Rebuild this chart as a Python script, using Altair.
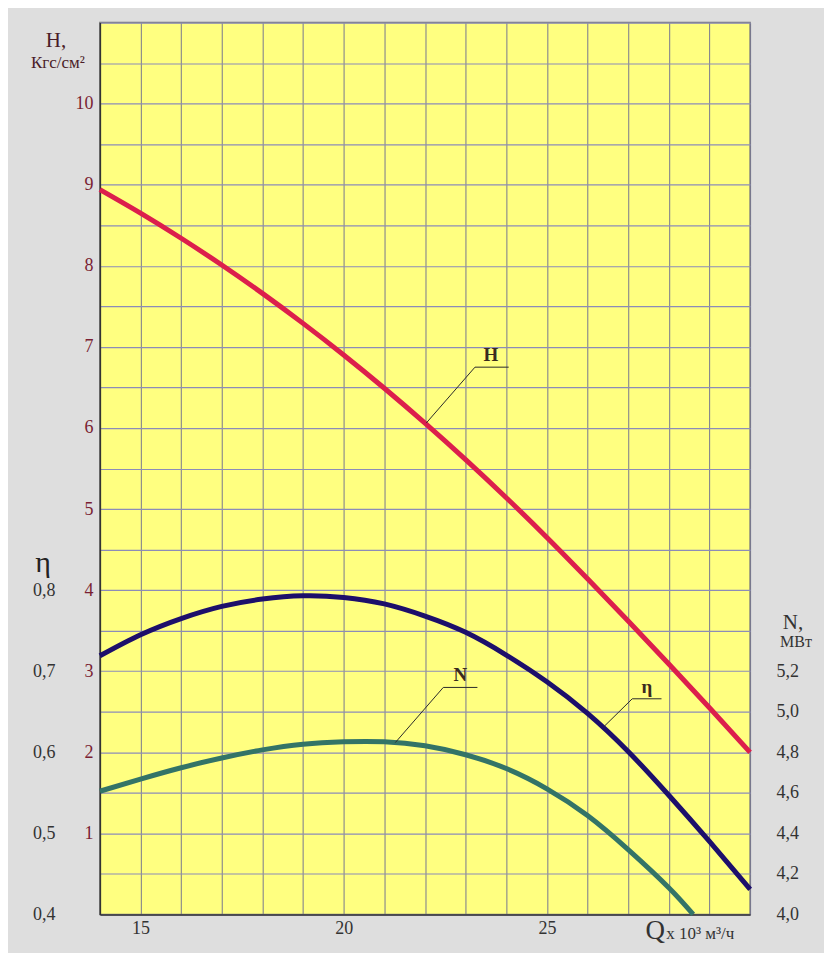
import altair as alt
import pandas as pd

# ---------------- data ----------------
Q_H = [14, 15, 16, 17, 18, 19, 20, 21, 22, 23, 24, 25, 26, 27, 28, 29, 30]
H_VALUES = [8.94, 8.65, 8.34, 8.01, 7.66, 7.29, 6.90, 6.49, 6.06, 5.61, 5.14, 4.65, 4.14, 3.62, 3.09, 2.55, 2.00]

Q_ETA = [14, 15, 16, 17, 18, 19, 20, 21, 22, 23, 24, 25, 26, 27, 28, 29, 30]
ETA_VALUES = [0.719, 0.745, 0.765, 0.780, 0.789, 0.793, 0.791, 0.783, 0.768, 0.748, 0.720, 0.687,
              0.648, 0.601, 0.547, 0.490, 0.431]

Q_N = [14, 15, 16, 17, 18, 19, 20, 21, 22, 23, 24, 25, 26, 27, 28, 28.6]
N_VALUES = [4.608, 4.668, 4.724, 4.772, 4.812, 4.840, 4.852, 4.852, 4.832, 4.788, 4.720, 4.620,
            4.488, 4.320, 4.132, 4.000]

# leader lines (x in Q units, y in H-scale units)
LEADER_ID = ["H", "H", "H", "N", "N", "N", "η", "η", "η"]
LEADER_Q = [22.03, 23.23, 24.06, 21.27, 22.45, 23.29, 26.41, 27.10, 27.82]
LEADER_Y = [6.06, 6.75, 6.75, 2.12, 2.80, 2.80, 2.32, 2.66, 2.66]

LABEL_TEXT = ["H", "N", "η"]
LABEL_Q = [23.62, 22.87, 27.46]
LABEL_Y = [6.75, 2.80, 2.66]

X_TICKS = list(range(14, 31))
X_LABELS = [15, 20, 25]
H_GRID = [i * 0.5 for i in range(0, 23)]
H_LABELS = list(range(1, 11))
ETA_LABELS = [0.4, 0.5, 0.6, 0.7, 0.8]
N_LABELS = [4.0, 4.2, 4.4, 4.6, 4.8, 5.0, 5.2]

SERIF = "Liberation Serif"
RED = "#dc1f4c"
NAVY = "#1d0f6b"
TEAL = "#337467"
MAROON = "#7a1f33"

W, H = 651, 893

x_axis = alt.Axis(
    values=X_TICKS, grid=True, gridColor="#77778f", gridWidth=1, ticks=False,
    domain=True, domainColor="#333333", domainWidth=1.5,
    labelExpr="(datum.value == 15 || datum.value == 20 || datum.value == 25) ? datum.label : ''",
    labelFont=SERIF, labelFontSize=18, labelColor="#333333", labelPadding=5, title=None,
)
x_scale = alt.Scale(domain=[14, 30], nice=False, zero=False)


def X(field):
    return alt.X(f"{field}:Q", scale=x_scale, axis=x_axis)


h_scale = alt.Scale(domain=[0, 11], nice=False, zero=False)
eta_scale = alt.Scale(domain=[0.4, 1.5], nice=False, zero=False)
n_scale = alt.Scale(domain=[4.0, 8.4], nice=False, zero=False)

df_h = pd.DataFrame({"Q": Q_H, "H": H_VALUES})
df_eta = pd.DataFrame({"Q": Q_ETA, "eta": ETA_VALUES})
df_n = pd.DataFrame({"Q": Q_N, "N": N_VALUES})
df_lead = pd.DataFrame({"id": LEADER_ID, "Q": LEADER_Q, "y": LEADER_Y})
df_lab = pd.DataFrame({"t": LABEL_TEXT, "Q": LABEL_Q, "y": LABEL_Y})

h_layer = alt.Chart(df_h).mark_line(color=RED, strokeWidth=5, interpolate="natural").encode(
    x=X("Q"),
    y=alt.Y("H:Q", scale=h_scale, axis=alt.Axis(
        orient="left", values=H_GRID, grid=True, gridColor="#8c8cb8", gridWidth=1.2, ticks=False,
        domain=True, domainColor="#333333", domainWidth=1.5,
        labelExpr="(datum.value >= 1 && datum.value <= 10 && datum.value % 1 == 0) ? format(datum.value, 'd') : ''",
        labelFont=SERIF, labelFontSize=18, labelColor=MAROON, labelPadding=7, title=None)),
)

eta_layer = alt.Chart(df_eta).mark_line(color=NAVY, strokeWidth=5, interpolate="natural").encode(
    x=X("Q"),
    y=alt.Y("eta:Q", scale=eta_scale, axis=alt.Axis(
        orient="left", offset=40, values=ETA_LABELS, grid=False, ticks=False, domain=False,
        labelExpr="replace(format(datum.value, '.1f'), '.', ',')",
        labelFont=SERIF, labelFontSize=18, labelColor="#333333", labelPadding=5, title=None)),
)

n_layer = alt.Chart(df_n).mark_line(color=TEAL, strokeWidth=5, interpolate="natural").encode(
    x=X("Q"),
    y=alt.Y("N:Q", scale=n_scale, axis=alt.Axis(
        orient="right", offset=20, values=N_LABELS, grid=False, ticks=False, domain=False,
        labelExpr="replace(format(datum.value, '.1f'), '.', ',')",
        labelFont=SERIF, labelFontSize=18, labelColor="#333333", labelPadding=6, title=None)),
)

lead_layer = alt.Chart(df_lead).mark_line(color="#2a2a2a", strokeWidth=1).encode(
    x=X("Q"),
    y=alt.Y("y:Q", scale=h_scale, axis=None),
    detail="id:N",
)

lab_layer = alt.Chart(df_lab).mark_text(
    font=SERIF, fontSize=19, fontWeight="bold", color="#3a2a20", baseline="bottom", dy=-2
).encode(
    x=X("Q"),
    y=alt.Y("y:Q", scale=h_scale, axis=None),
    text="t:N",
)


def title_text(txt, px, py, size, color="#333333", align="center", weight="normal"):
    return alt.Chart(pd.DataFrame({"t": [txt]})).mark_text(
        font=SERIF, fontSize=size, color=color, align=align, baseline="middle", fontWeight=weight
    ).encode(text="t:N", x=alt.value(px), y=alt.value(py))


titles = [
    title_text("H,", -44, 18, 21, "#4a1c28"),
    title_text("Кгс/см²", -42, 40, 17, "#4a1c28"),
    title_text("η", -57, 541, 30, "#222222"),
    title_text("N,", 694, 601, 21, "#333333"),
    title_text("МВт", 697, 620, 16, "#333333"),
    title_text("Q", 556, 910, 27, "#333333"),
    title_text("x 10³ м³/ч", 567, 913, 17, "#333333", align="left"),
]

chart = alt.layer(h_layer, eta_layer, n_layer, lead_layer, lab_layer, *titles).resolve_scale(
    y="independent"
).resolve_axis(y="independent").properties(
    width=W, height=H, background="#dedede",
    padding={"left": 92, "top": 14, "right": 74, "bottom": 38},
    autosize=alt.AutoSizeParams(type="none"),
).configure_view(fill="#ffff80", stroke="#7a7a7a", strokeWidth=1.5)

chart.save("out.html", embed_options={"renderer": "svg", "actions": False})
